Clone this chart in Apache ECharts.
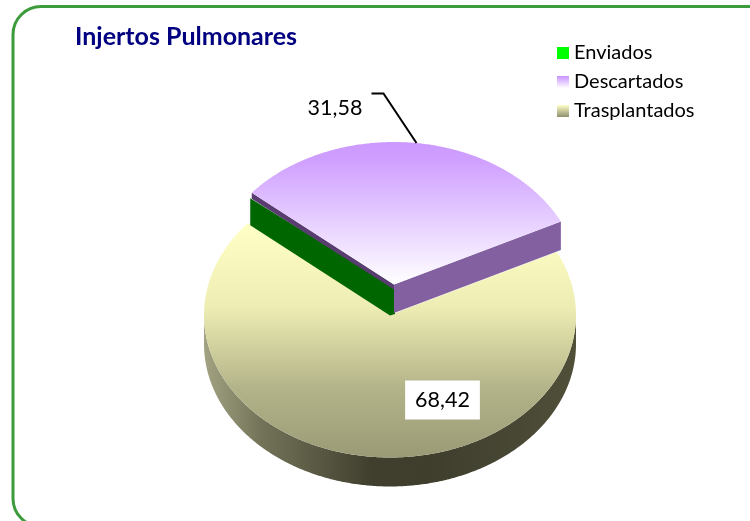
<!DOCTYPE html>
<html>
<head>
<meta charset="utf-8">
<style>html,body{margin:0;padding:0;background:#fff}#c{width:750px;height:521px}</style>
<script src="https://cdn.jsdelivr.net/npm/echarts@6/dist/echarts.min.js"></script>
</head>
<body>
<div id="c"></div>
<script>
var titleText = 'Injertos Pulmonares';
var categories = ['Enviados', 'Descartados', 'Trasplantados'];
var values = [0, 31.58, 68.42];
var valueLabels = ['', '31,58', '68,42'];

var chart = echarts.init(document.getElementById('c'), null, {renderer: 'canvas'});
var G = echarts.graphic.LinearGradient;
var FONT = 'Lato, sans-serif';
var RX = 186, RY = 142.5, START = -49.9;
var total = values.reduce(function (a, b) { return a + b; }, 0);

function vgrad(stops) {
  return new G(0, 0, 0, 1, stops.map(function (s) { return {offset: s[0], color: s[1]}; }));
}
function hgrad(stops) {
  return new G(0, 0, 1, 0, stops.map(function (s) { return {offset: s[0], color: s[1]}; }));
}
var greenFill = '#00ff00';
var purpleFill = vgrad([[0, '#cc99ff'], [0.12, '#cf9fff'], [1, '#ffffff']]);
var yellowFill = vgrad([[0, '#ffffc6'], [0.35, '#eeeeb4'], [0.7, '#b4b48a'], [1, '#9a9a76']]);
var rimFill = hgrad([[0, '#a3a383'], [0.15, '#74745a'], [0.45, '#403f2e'], [0.6, '#3f3e2d'], [0.85, '#484835'], [1, '#505039']]);

function pt(c, deg) {
  var t = deg * Math.PI / 180;
  return [c[0] + RX * Math.sin(t), c[1] - RY * Math.cos(t)];
}
function arc(c, a, b) {
  var out = [], n = Math.max(2, Math.ceil(Math.abs(b - a) * 2));
  for (var i = 0; i <= n; i++) out.push(pt(c, a + (b - a) * i / n));
  return out;
}
function poly(points, fill, z2) {
  return {type: 'polygon', shape: {points: points}, style: {fill: fill, stroke: null}, z2: z2 || 0, silent: true};
}
// angular range of a slice, derived from the values
function range(index) {
  var a = START;
  for (var i = 0; i < index; i++) a += values[i] / total * 360;
  return [a, a + values[index] / total * 360];
}

function renderEnviados(params, api) {
  var idx = api.value(0);
  var r = range(idx);
  var c = [392.5, 290], d = 27;
  var e = pt(c, r[0]);
  return {type: 'group', children: [
    poly([[395, 288], e, [e[0], e[1] + d], [390, 315.5], [395, 314]], '#006600')
  ]};
}
function renderDescartados(params, api) {
  var idx = api.value(0);
  var r = range(idx);
  var c = [394, 284.5], d = 28.5;
  var a = pt(c, r[0]), b = pt(c, r[1]);
  var mid = pt(c, (r[0] + r[1]) / 2);
  var top = [c].concat(arc(c, r[0], r[1]));
  return {type: 'group', children: [
    poly([c, a, [a[0], a[1] + 6], [c[0], c[1] + 5]], '#5a3d70'),
    poly([c, b, [b[0], b[1] + d], [c[0], c[1] + d]], '#8361a1'),
    poly(top, purpleFill),
    {type: 'polyline', shape: {points: [mid, [mid[0] - 33, mid[1] - 49.5], [mid[0] - 45, mid[1] - 49.5]]},
     style: {stroke: '#000', lineWidth: 2, fill: null}, silent: true},
    {type: 'text', style: {text: valueLabels[idx], x: mid[0] - 81.5, y: mid[1] - 35,
     fill: '#000', font: '21.5px ' + FONT, align: 'center', verticalAlign: 'middle'}, silent: true}
  ]};
}
function renderTrasplantados(params, api) {
  var idx = api.value(0);
  var r = range(idx);
  var c = [390, 315], d = 29;
  var rimTop = arc(c, 90, 270);
  var rimBot = arc([c[0], c[1] + d], 270, 90);
  return {type: 'group', children: [
    poly(rimTop.concat(rimBot), rimFill),
    poly([c].concat(arc(c, r[0], r[1])), yellowFill),
    {type: 'text', style: {text: valueLabels[idx], x: 442.5, y: 400, fill: '#000', font: '21.5px ' + FONT,
     align: 'center', verticalAlign: 'middle', backgroundColor: '#fff', padding: [9, 10, 8, 10]}, silent: true}
  ]};
}
function seriesFor(i, render, fill, z) {
  return {type: 'custom', name: categories[i], coordinateSystem: 'none', renderItem: render,
    data: [[i, values[i]]], itemStyle: {color: fill}, z: z, silent: true, animation: false};
}

chart.setOption({
  animation: false,
  backgroundColor: '#fff',
  title: {text: titleText, left: 70, top: 19,
    textStyle: {fontFamily: FONT, fontSize: 25, fontWeight: 'bold', color: '#000080'}},
  legend: {
    orient: 'vertical', left: 552, top: 38, itemWidth: 12, itemHeight: 12, itemGap: 9,
    icon: 'rect', selectedMode: false,
    textStyle: {fontFamily: FONT, fontSize: 20, color: '#000'},
    data: [
      {name: categories[0], itemStyle: {color: greenFill}},
      {name: categories[1], itemStyle: {color: purpleFill}},
      {name: categories[2], itemStyle: {color: vgrad([[0, '#ffffc6'], [1, '#8f8f6e']])}}
    ]
  },
  graphic: [{
    type: 'rect', z: -1, silent: true,
    shape: {x: 13, y: 6.5, width: 780, height: 520, r: 28},
    style: {fill: 'none', stroke: '#3c9c3c', lineWidth: 3}
  }],
  series: [
    seriesFor(2, renderTrasplantados, yellowFill, 2),
    seriesFor(0, renderEnviados, greenFill, 3),
    seriesFor(1, renderDescartados, purpleFill, 4)
  ]
});
</script>
</body>
</html>
